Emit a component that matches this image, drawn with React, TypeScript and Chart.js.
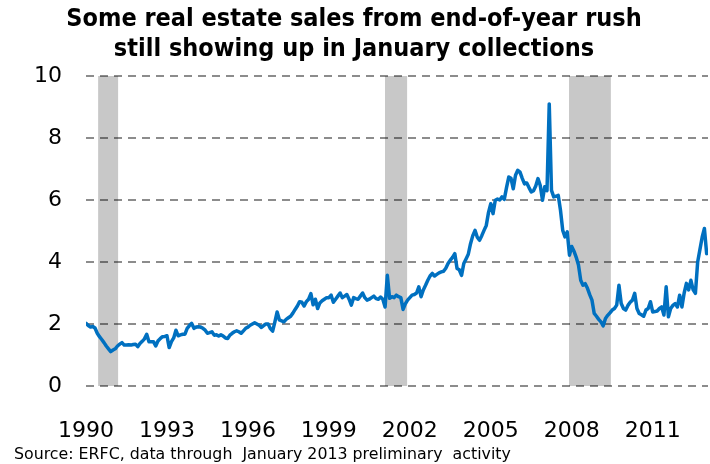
import React, { useEffect, useRef } from 'react';
import { Chart, registerables } from 'chart.js';

Chart.register(...registerables);

const startYear = 1990;

// Monthly values, Jan 1990 .. Jan 2013 (one row per year)
const monthlyValues: number[] = [
  2.02, 1.95, 1.90, 1.92, 1.87, 1.70, 1.59, 1.50, 1.40, 1.29, 1.20, 1.11,
  1.16, 1.20, 1.29, 1.35, 1.40, 1.32, 1.32, 1.33, 1.32, 1.34, 1.35, 1.27,
  1.37, 1.44, 1.52, 1.67, 1.43, 1.43, 1.43, 1.29, 1.45, 1.53, 1.59, 1.60,
  1.62, 1.24, 1.43, 1.55, 1.80, 1.62, 1.65, 1.67, 1.67, 1.86, 1.95, 2.02,
  1.86, 1.90, 1.91, 1.90, 1.86, 1.80, 1.70, 1.72, 1.75, 1.64, 1.65, 1.61,
  1.65, 1.61, 1.55, 1.53, 1.64, 1.70, 1.75, 1.78, 1.75, 1.70, 1.78, 1.86,
  1.90, 1.96, 2.00, 2.04, 2.00, 1.96, 1.89, 1.95, 2.00, 2.00, 1.85, 1.77,
  2.07, 2.39, 2.13, 2.10, 2.07, 2.15, 2.20, 2.25, 2.35, 2.47, 2.58, 2.72,
  2.70, 2.58, 2.72, 2.80, 2.98, 2.62, 2.80, 2.50, 2.68, 2.75, 2.80, 2.85,
  2.85, 2.93, 2.70, 2.80, 2.90, 3.00, 2.85, 2.90, 2.95, 2.80, 2.61, 2.85,
  2.82, 2.80, 2.90, 3.00, 2.85, 2.77, 2.80, 2.85, 2.90, 2.82, 2.80, 2.87,
  2.80, 2.55, 3.57, 2.83, 2.88, 2.85, 2.93, 2.88, 2.85, 2.47, 2.65, 2.77,
  2.85, 2.93, 2.95, 3.00, 3.20, 2.88, 3.10, 3.25, 3.41, 3.55, 3.63, 3.55,
  3.60, 3.65, 3.68, 3.70, 3.80, 3.95, 4.06, 4.15, 4.27, 3.79, 3.75, 3.57,
  3.95, 4.10, 4.25, 4.59, 4.85, 5.02, 4.80, 4.70, 4.85, 5.02, 5.18, 5.60,
  5.88, 5.56, 5.99, 6.03, 6.00, 6.10, 6.02, 6.40, 6.74, 6.70, 6.36, 6.80,
  6.96, 6.90, 6.70, 6.52, 6.55, 6.40, 6.26, 6.30, 6.45, 6.69, 6.47, 5.99,
  6.43, 6.30, 9.10, 6.31, 6.10, 6.12, 6.15, 5.67, 5.02, 4.81, 4.97, 4.22,
  4.50, 4.35, 4.15, 3.90, 3.41, 3.25, 3.30, 3.15, 2.95, 2.77, 2.34, 2.25,
  2.15, 2.07, 1.94, 2.18, 2.28, 2.36, 2.45, 2.50, 2.61, 3.25, 2.66, 2.50,
  2.45, 2.60, 2.70, 2.77, 2.99, 2.50, 2.34, 2.30, 2.25, 2.45, 2.50, 2.72,
  2.39, 2.40, 2.42, 2.50, 2.55, 2.29, 3.20, 2.23, 2.50, 2.60, 2.66, 2.55,
  2.93, 2.55, 3.00, 3.31, 3.10, 3.41, 3.10, 2.99, 4.00, 4.40, 4.80, 5.08,
  4.27,
];

const recessionStarts = [1990.45, 2001.08, 2007.9];
const recessionEnds = [1991.19, 2001.9, 2009.45];

const xTickYears = [1990, 1993, 1996, 1999, 2002, 2005, 2008, 2011];
const xMin = 1990;
const xMax = 2013.05;
const yMin = 0;
const yMax = 10;
const yStep = 2;

const titleLines = [
  'Some real estate sales from end-of-year rush',
  'still showing up in January collections',
];
const sourceText = 'Source: ERFC, data through  January 2013 preliminary  activity';

const FONT = "'DejaVu Sans', Verdana, sans-serif";

const recessionPlugin = {
  id: 'recessionBars',
  beforeDraw(chart: any) {
    const { ctx, chartArea, scales } = chart;
    const xs = scales.x;
    ctx.save();
    ctx.fillStyle = '#c8c8c8';
    recessionStarts.forEach((s, k) => {
      const x0 = xs.getPixelForValue(s);
      const x1 = xs.getPixelForValue(recessionEnds[k]);
      ctx.fillRect(x0, chartArea.top, x1 - x0, chartArea.bottom - chartArea.top);
    });
    ctx.restore();
  },
};

const sourcePlugin = {
  id: 'sourceNote',
  afterDraw(chart: any) {
    const { ctx } = chart;
    ctx.save();
    ctx.font = `15.8px ${FONT}`;
    ctx.fillStyle = '#000';
    ctx.textBaseline = 'middle';
    ctx.textAlign = 'left';
    ctx.fillText(sourceText, 14, chart.height - 9);
    ctx.restore();
  },
};

export default function App() {
  const ref = useRef<HTMLCanvasElement | null>(null);

  useEffect(() => {
    document.body.style.margin = '0';
    const canvas = ref.current;
    if (!canvas) return;
    const points = monthlyValues.map((v, i) => ({ x: startYear + i / 12, y: v }));
    const chart = new Chart(canvas, {
      type: 'line',
      data: {
        datasets: [
          {
            data: points,
            borderColor: '#0070C0',
            borderWidth: 3.5,
            pointRadius: 0,
            tension: 0,
            borderJoinStyle: 'round',
            borderCapStyle: 'round',
            fill: false,
          },
        ],
      },
      options: {
        responsive: false,
        animation: false,
        devicePixelRatio: 1,
        layout: { padding: { left: 0, right: 2, top: 0, bottom: 0 } },
        plugins: {
          legend: { display: false },
          tooltip: { enabled: false },
          title: {
            display: true,
            text: titleLines,
            color: '#000',
            font: { family: "'DejaVu Sans Condensed', 'DejaVu Sans', sans-serif", size: 25, weight: 'bold', lineHeight: 1.2 },
            padding: { top: 4, bottom: 12 },
          },
        },
        scales: {
          x: {
            type: 'linear',
            min: xMin,
            max: xMax,
            afterBuildTicks: (s: any) => {
              s.ticks = xTickYears.map((v) => ({ value: v }));
            },
            afterFit: (s: any) => {
              s.height = 78;
            },
            grid: { display: false, drawTicks: false },
            border: { display: false },
            ticks: {
              autoSkip: false,
              maxRotation: 0,
              padding: 29,
              color: '#000',
              font: { family: FONT, size: 22, lineHeight: 1.5 },
              callback: (v: any) => String(v),
            },
          },
          y: {
            min: yMin,
            max: yMax,
            afterFit: (s: any) => {
              s.width = 86;
            },
            ticks: {
              stepSize: yStep,
              padding: 24,
              color: '#000',
              font: { family: FONT, size: 22 },
            },
            grid: { color: 'rgba(0,0,0,0.45)', lineWidth: 2, drawTicks: false },
            border: { display: false, dash: [8, 6] },
          },
        },
      },
      plugins: [recessionPlugin, sourcePlugin],
    } as any);
    return () => chart.destroy();
  }, []);

  return (
    <div style={{ width: 710, height: 464 }}>
      <canvas ref={ref} width={710} height={464} style={{ display: 'block' }} />
    </div>
  );
}
